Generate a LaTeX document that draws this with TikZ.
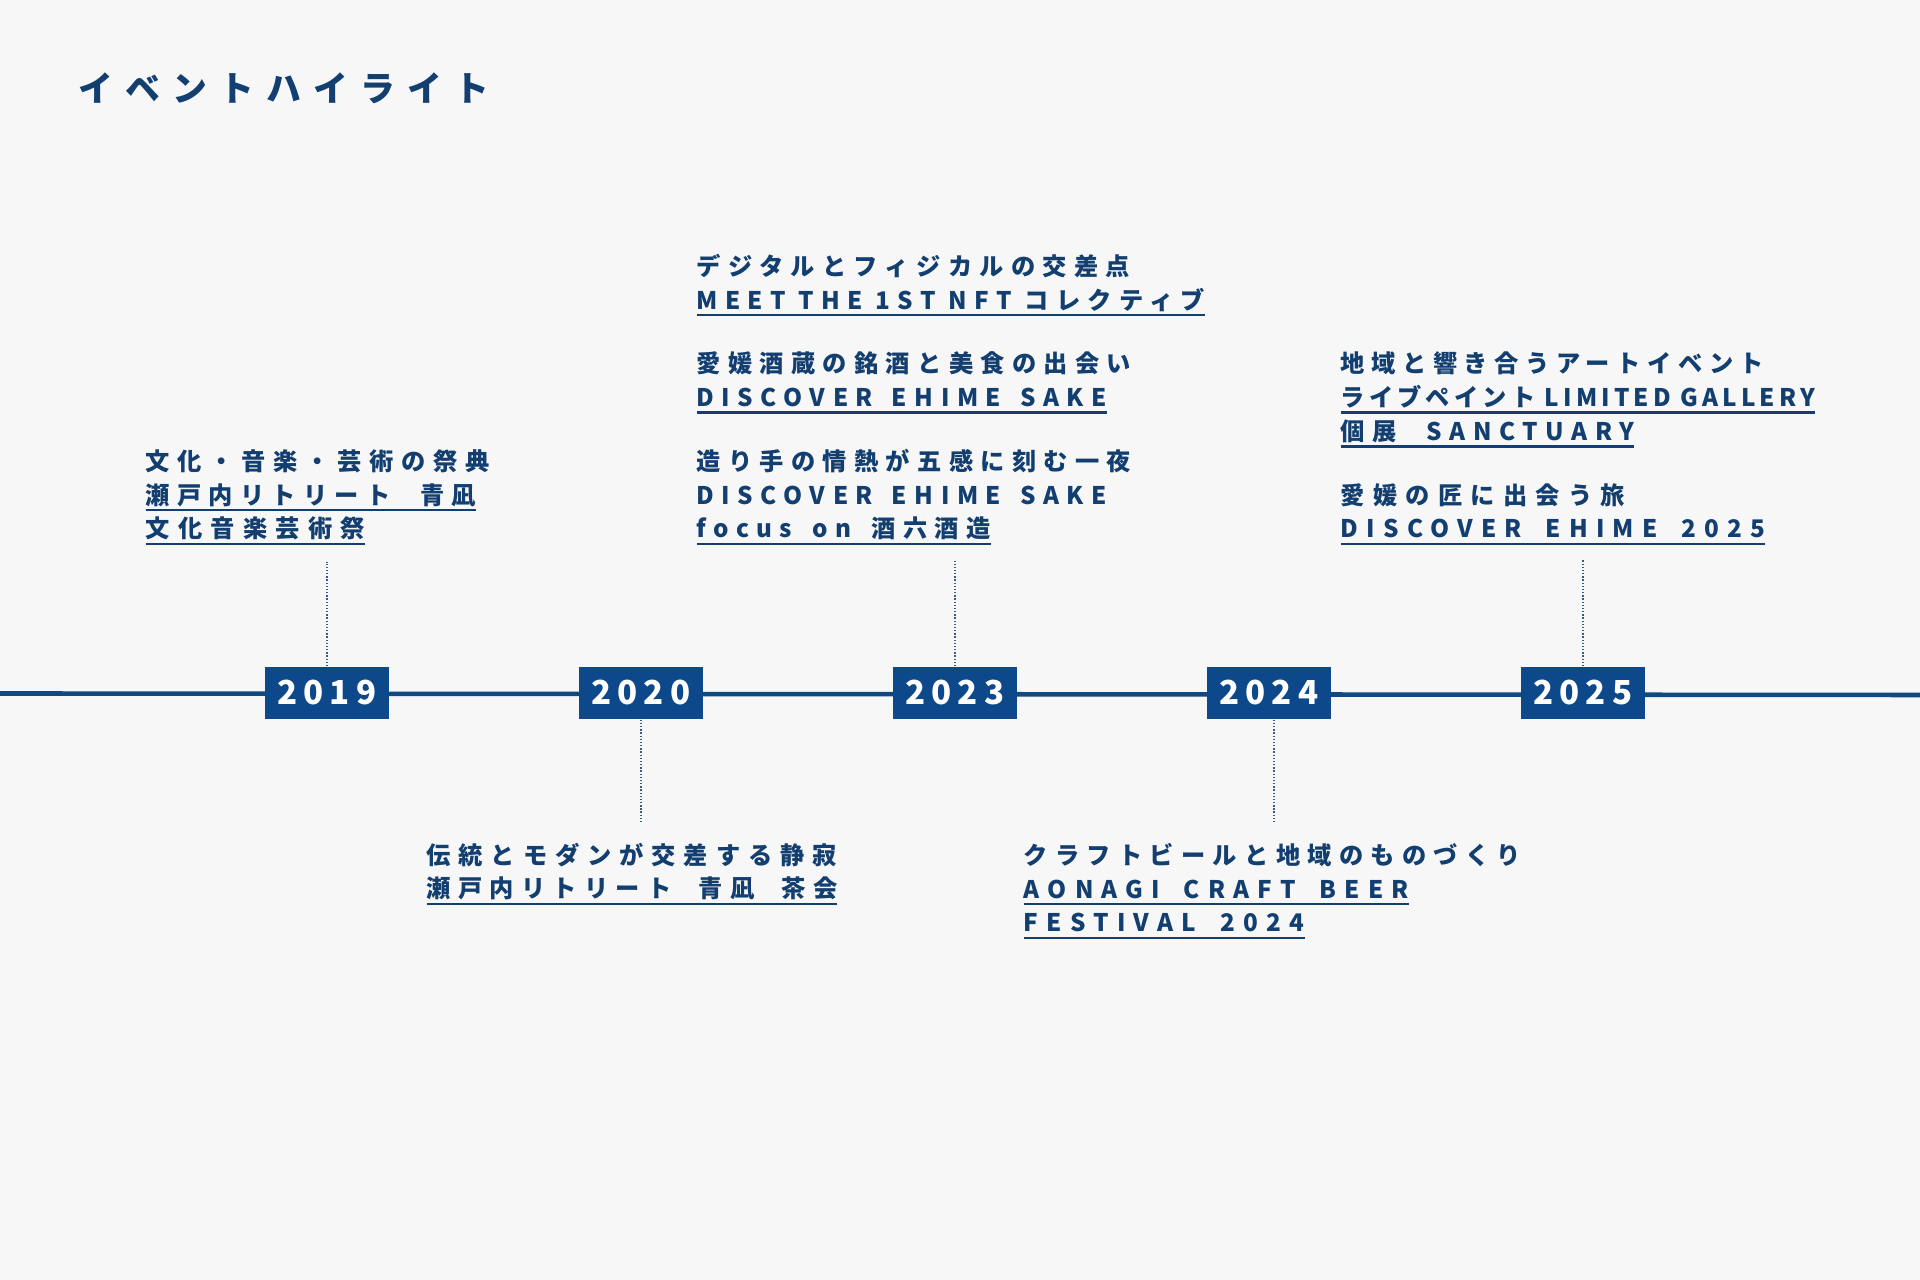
\documentclass[tikz,border=0pt]{standalone}
\usepackage{fontspec}
\setmainfont{Noto Sans CJK JP}
\usetikzlibrary{positioning}
\definecolor{paper}{RGB}{247,247,247}
\definecolor{navy}{RGB}{18,62,112}
\definecolor{yearblue}{RGB}{12,72,138}
\definecolor{axisblue}{RGB}{16,72,128}

\newcommand{\evfont}{\fontsize{6.9pt}{9.64pt}\selectfont\bfseries\addfontfeatures{LetterSpace=30}}
\newcommand{\titlefont}{\fontsize{9.9pt}{12pt}\selectfont\bfseries\addfontfeatures{LetterSpace=35}}
\newcommand{\yearfont}{\fontsize{9.4pt}{11pt}\selectfont\bfseries\addfontfeatures{LetterSpace=18}}
% per-line tracking: letter space, word space factor, text
\newcommand{\trk}[3]{{\addfontfeatures{LetterSpace=#1}\spaceskip=#2\fontdimen2\font\relax #3}}
\newsavebox\ulbox
\newcommand{\uline}[1]{\sbox\ulbox{#1}\leavevmode\rlap{\smash{\lower2pt\hbox{\color{navy}\vrule width\wd\ulbox height0.7pt}}}\usebox\ulbox}

\begin{document}
\begin{tikzpicture}[
  x=0.01cm, y=-0.01cm,
  yearbox/.style={fill=yearblue, text=white, font=\yearfont, minimum width=1.24cm, minimum height=0.52cm, inner sep=0pt},
  evtext/.style={text=navy, font=\evfont, align=left, anchor=base west, inner xsep=0pt, inner ysep=5.8pt},
  link/.style={draw=navy!85, line width=0.45pt, dash pattern=on 0.4pt off 0.5pt}
]
\useasboundingbox (0,0) rectangle (1920,1280);
\fill[paper] (0,0) rectangle (1920,1280);
\node[text=navy, font=\titlefont, anchor=base west, inner sep=0pt] (title) at (78,102) {イベントハイライト};

% timeline
\coordinate (axisL) at (0,693.5);
\coordinate (axisR) at (1920,695);
\draw[axisblue, line width=1.3pt] (axisL) -- (axisR);
\foreach \yr/\x in {2019/327, 2020/641, 2023/955, 2024/1269, 2025/1583}
  \node[yearbox] (y\yr) at (\x,693) {\yr};

% events above the line (anchored at the last baseline)
\node[evtext] (ev2019) at (145,538) {\trk{32}{1}{文化・音楽・芸術の祭典}\\
  \uline{\trk{30}{2.3}{瀬戸内リトリート 青凪}}\\
  \uline{\trk{34}{1}{文化音楽芸術祭}}};
\node[evtext] (ev2023) at (696,538) {デジタルとフィジカルの交差点\\
  \uline{MEET THE 1ST NFT コレクティブ}\\[8.4pt]
  愛媛酒蔵の銘酒と美食の出会い\\
  \uline{\trk{31}{1.45}{DISCOVER EHIME SAKE}}\\[8.4pt]
  造り手の情熱が五感に刻む一夜\\
  \trk{31}{1.45}{DISCOVER EHIME SAKE}\\
  \uline{\trk{30}{1.6}{focus on 酒六酒造}}};
\node[evtext] (ev2025) at (1340,538) {\trk{27}{1}{地域と響き合うアートイベント}\\
  \uline{\trk{17}{1}{ライブペイント LIMITED GALLERY}}\\
  \uline{\trk{31}{2.3}{個展 SANCTUARY}}\\[8.4pt]
  \trk{34}{1}{愛媛の匠に出会う旅}\\
  \uline{\trk{34}{1.7}{DISCOVER EHIME 2025}}};

% events below the line
\node[evtext] (ev2020) at (426,898) {\trk{32.5}{1}{伝統とモダンが交差する静寂}\\
  \uline{\trk{30}{2.1}{瀬戸内リトリート 青凪 茶会}}};
\node[evtext] (ev2024) at (1023,932) {クラフトビールと地域のものづくり\\
  \uline{\trk{34}{1.7}{AONAGI CRAFT BEER}}\\
  \uline{\trk{34}{1.8}{FESTIVAL 2024}}};

\draw[link] (y2019.north) -- (y2019.north |- ev2019.south);
\draw[link] (y2023.north) -- (y2023.north |- ev2023.south);
\draw[link] (y2025.north) -- (y2025.north |- ev2025.south);
\draw[link] (y2020.south) -- (y2020.south |- ev2020.north);
\draw[link] ([xshift=0.05cm]y2024.south) -- ([xshift=0.05cm]y2024.south |- ev2024.north);
\end{tikzpicture}
\end{document}
